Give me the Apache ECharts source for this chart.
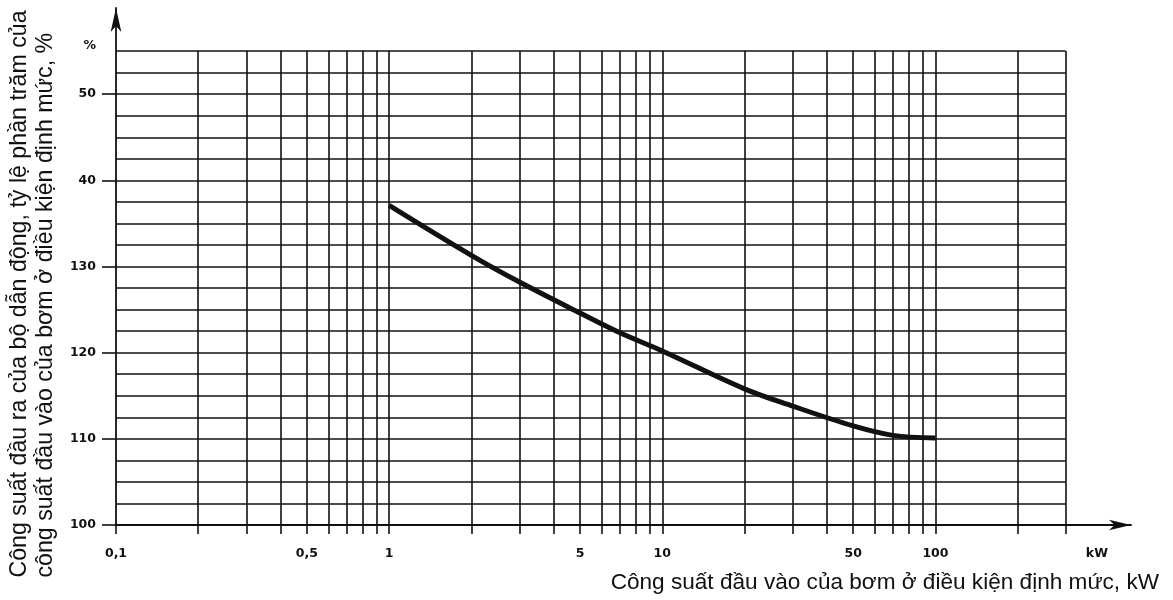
<!DOCTYPE html>
<html>
<head>
<meta charset="utf-8">
<script src="https://cdn.jsdelivr.net/npm/echarts@6/dist/echarts.min.js"></script>
<style>
html,body{margin:0;padding:0;background:#fff;}
#chart{width:1173px;height:600px;}
</style>
</head>
<body>
<div id="chart"></div>
<script>
// Curve: input power (kW) vs driver output (% of pump input)
const curveX = [1, 2, 3, 5, 7, 10, 20, 30, 50, 70, 100];
const curveY = [137.1, 131.3, 128.2, 124.6, 122.3, 120.2, 115.8, 113.8, 111.5, 110.4, 110.1];

// Grid lines
const vLines = [0.2, 0.3, 0.4, 0.5, 0.6, 0.7, 0.8, 0.9, 1, 2, 3, 4, 5, 6, 7, 8, 9, 10, 20, 30, 40, 50, 60, 70, 80, 90, 100, 200, 300];
const hLines = [102.5, 105, 107.5, 110, 112.5, 115, 117.5, 120, 122.5, 125, 127.5, 130, 132.5, 135, 137.5, 140, 142.5, 145, 147.5, 150, 152.5, 155];

// Tick labels
const xLabelValues = [0.1, 0.5, 1, 5, 10, 50, 100, 390];
const xLabelTexts = ['0,1', '0,5', '1', '5', '10', '50', '100', 'kW'];
const yTickValues = [100, 110, 120, 130, 140, 150];
const yLabelValues = [100, 110, 120, 130, 140, 150, 155.6];
const yLabelTexts = ['100', '110', '120', '130', '40', '50', '%'];

const xName = 'Công suất đầu vào của bơm ở điều kiện định mức, kW';
const yNameLines = ['Công suất đầu ra của bộ dẫn động, tỷ lệ phần trăm của', 'công suất đầu vào của bơm ở điều kiện định mức, %'];

const X_MIN = 0.1, X_GRID_MAX = 300, X_AXIS_MAX = 520;
const Y_MIN = 100, Y_GRID_MAX = 155, Y_AXIS_MAX = 160;

function lookup(values, texts, v) {
  let best = -1, bd = Infinity;
  values.forEach((x, i) => { const d = Math.abs(Math.log(x) - Math.log(v)); if (d < bd) { bd = d; best = i; } });
  return bd < 0.001 ? texts[best] : '';
}

const ink = '#111';
const gridStyle = { color: ink, width: 1.6, type: 'solid' };
const tickFont = { fontFamily: 'DejaVu Sans', fontWeight: 'bold', fontSize: 12.5, color: ink };
const nameFont = { fontFamily: 'Liberation Sans', fontSize: 22.6, color: ink };
const yNameFont = { fontFamily: 'Liberation Sans', fontSize: 23.2, color: ink };

const chart = echarts.init(document.getElementById('chart'));
chart.setOption({
  backgroundColor: '#fff',
  animation: false,
  grid: { left: 116, right: 42, top: 8, bottom: 75, containLabel: false, outerBoundsMode: 'none' },
  xAxis: {
    type: 'log', logBase: 10, min: X_MIN, max: X_AXIS_MAX,
    name: xName,
    nameLocation: 'end',
    nameGap: 28,
    nameTextStyle: Object.assign({ align: 'right', verticalAlign: 'top', padding: [46, 0, 0, 0] }, nameFont),
    axisLine: { show: true, lineStyle: { color: ink, width: 1.8 }, symbol: ['none', 'arrow'], symbolSize: [8, 22] },
    axisTick: { show: true, length: 9, lineStyle: { color: ink, width: 1.6 }, customValues: [X_MIN].concat(vLines) },
    axisLabel: Object.assign({
      customValues: xLabelValues,
      formatter: v => lookup(xLabelValues, xLabelTexts, v),
      margin: 22
    }, tickFont),
    splitLine: { show: false },
    minorTick: { show: false }
  },
  yAxis: {
    type: 'value', min: Y_MIN, max: Y_AXIS_MAX,
    name: yNameLines.map(s => '{a|' + s + '}').join('\n'),
    nameLocation: 'middle',
    nameGap: 56,
    nameRotate: 90,
    nameTextStyle: Object.assign({
      lineHeight: 26, padding: [0, 55, 0, 0],
      rich: { a: Object.assign({ align: 'left', lineHeight: 26 }, yNameFont) }
    }, yNameFont),
    axisLine: { show: true, lineStyle: { color: ink, width: 1.8 }, symbol: ['none', 'arrow'], symbolSize: [8, 24] },
    axisTick: { show: true, length: 14, lineStyle: { color: ink, width: 1.6 }, customValues: yTickValues },
    axisLabel: Object.assign({
      customValues: yLabelValues,
      formatter: v => lookup(yLabelValues, yLabelTexts, v),
      margin: 20
    }, tickFont),
    splitLine: { show: false }
  },
  series: [
    {
      type: 'line', data: [], silent: true, z: 1,
      markLine: {
        silent: true, symbol: ['none', 'none'], label: { show: false },
        lineStyle: gridStyle, animation: false,
        data: vLines.map(v => [{ coord: [v, Y_MIN] }, { coord: [v, Y_GRID_MAX] }])
          .concat(hLines.map(v => [{ coord: [X_MIN, v] }, { coord: [X_GRID_MAX, v] }]))
      }
    },
    {
      type: 'line', z: 5,
      data: curveX.map((x, i) => [x, curveY[i]]),
      smooth: 0.35, showSymbol: false,
      lineStyle: { color: ink, width: 5 }
    }
  ]
});
</script>
</body>
</html>
